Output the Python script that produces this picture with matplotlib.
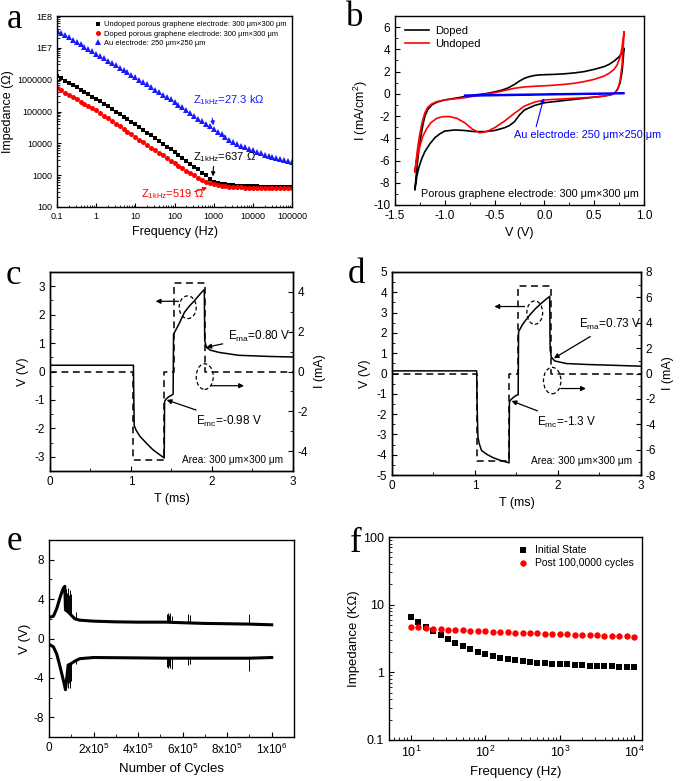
import numpy as np
import matplotlib
matplotlib.use("Agg")
import matplotlib.pyplot as plt
from matplotlib.patches import Ellipse
from matplotlib.ticker import MultipleLocator, LogLocator, NullFormatter

plt.rcParams['font.family'] = ['Liberation Sans', 'DejaVu Sans']
plt.rcParams['mathtext.fontset'] = 'custom'
plt.rcParams['mathtext.rm'] = 'Liberation Sans'
plt.rcParams['mathtext.it'] = 'Liberation Sans:italic'
plt.rcParams['xtick.direction'] = 'in'
plt.rcParams['ytick.direction'] = 'in'
plt.rcParams['axes.linewidth'] = 1.0
plt.rcParams['axes.unicode_minus'] = False

# ---------------- data ----------------
# (a) impedance spectra, log10 |Z| at 10 points per decade, 0.1 Hz .. 100 kHz
a_freq = np.logspace(-1, 5, 61)
a_undoped_log = [6.11, 6.04, 5.97, 5.90, 5.83, 5.76, 5.68, 5.61, 5.54, 5.47, 5.40,
                 5.32, 5.24, 5.16, 5.08, 5.00, 4.92, 4.84, 4.76, 4.68, 4.60,
                 4.51, 4.43, 4.34, 4.25, 4.17, 4.08, 3.99, 3.90, 3.82, 3.73,
                 3.64, 3.55, 3.46, 3.36, 3.27, 3.18, 3.08, 2.99, 2.89, 2.80,
                 2.76, 2.73, 2.71, 2.69, 2.68, 2.67, 2.66, 2.66, 2.65, 2.65,
                 2.65, 2.64, 2.64, 2.64, 2.63, 2.63, 2.63, 2.63, 2.62, 2.62]
a_doped_log = [5.73, 5.66, 5.59, 5.52, 5.45, 5.38, 5.31, 5.25, 5.18, 5.11, 5.04,
               4.96, 4.87, 4.79, 4.70, 4.62, 4.54, 4.45, 4.37, 4.28, 4.20,
               4.12, 4.03, 3.95, 3.86, 3.78, 3.70, 3.62, 3.54, 3.46, 3.38,
               3.30, 3.22, 3.14, 3.06, 2.99, 2.92, 2.86, 2.80, 2.75, 2.72,
               2.69, 2.67, 2.65, 2.64, 2.63, 2.62, 2.62, 2.61, 2.61, 2.61,
               2.60, 2.60, 2.60, 2.60, 2.59, 2.59, 2.59, 2.59, 2.59, 2.59]
a_au_log = [7.55, 7.48, 7.40, 7.33, 7.26, 7.18, 7.11, 7.04, 6.97, 6.89, 6.82,
            6.75, 6.67, 6.60, 6.52, 6.45, 6.38, 6.30, 6.23, 6.15, 6.08,
            6.00, 5.92, 5.85, 5.77, 5.69, 5.61, 5.53, 5.46, 5.38, 5.30,
            5.21, 5.13, 5.04, 4.96, 4.87, 4.78, 4.70, 4.61, 4.53, 4.44,
            4.36, 4.28, 4.20, 4.12, 4.05, 3.98, 3.92, 3.87, 3.82, 3.78,
            3.73, 3.69, 3.64, 3.60, 3.56, 3.53, 3.50, 3.47, 3.44, 3.42]

# (b) cyclic voltammetry
b_doped_v = [-1.30, -1.28, -1.26, -1.24, -1.22, -1.20, -1.17, -1.13, -1.08, -1.00, -0.90, -0.80,
             -0.70, -0.60, -0.50, -0.42, -0.36, -0.30, -0.25, -0.20, -0.15, -0.10, -0.05, 0.00,
             0.10, 0.20, 0.30, 0.40, 0.50, 0.60, 0.65, 0.70, 0.74, 0.77, 0.79, 0.80,
             0.79, 0.78, 0.76, 0.74, 0.71, 0.67, 0.60, 0.50, 0.40, 0.30, 0.20, 0.10, 0.00,
             -0.10, -0.20, -0.25, -0.30, -0.35, -0.40, -0.50, -0.60, -0.70, -0.80, -0.90,
             -1.00, -1.05, -1.10, -1.15, -1.20, -1.23, -1.26, -1.28, -1.30]
b_doped_i = [-8.6, -6.6, -5.0, -3.8, -2.8, -2.0, -1.4, -1.0, -0.75, -0.55, -0.4, -0.25,
             -0.1, 0.0, 0.17, 0.35, 0.55, 0.85, 1.15, 1.4, 1.55, 1.65, 1.7, 1.72,
             1.75, 1.8, 1.88, 2.0, 2.2, 2.45, 2.65, 2.95, 3.25, 3.55, 3.85, 4.1,
             3.0, 2.0, 1.0, 0.5, 0.1, -0.05, -0.2, -0.3, -0.4, -0.5, -0.6, -0.7, -0.8,
             -1.05, -1.45, -1.9, -2.5, -2.85, -3.05, -3.3, -3.4, -3.4, -3.3, -3.25,
             -3.35, -3.6, -3.95, -4.5, -5.2, -5.8, -6.6, -7.4, -8.6]
b_undoped_v = [-1.30, -1.28, -1.26, -1.24, -1.22, -1.20, -1.17, -1.13, -1.08, -1.00, -0.90, -0.80,
               -0.70, -0.60, -0.50, -0.40, -0.30, -0.20, -0.10, 0.00, 0.10, 0.20, 0.30, 0.40,
               0.50, 0.60, 0.65, 0.70, 0.73, 0.76, 0.78, 0.80,
               0.79, 0.78, 0.76, 0.74, 0.71, 0.67, 0.60, 0.50, 0.40, 0.30, 0.20, 0.10, 0.00,
               -0.10, -0.20, -0.30, -0.40, -0.50, -0.58, -0.65, -0.72, -0.80, -0.88, -0.95,
               -1.02, -1.08, -1.14, -1.18, -1.22, -1.25, -1.28, -1.30]
b_undoped_i = [-7.0, -5.4, -4.1, -3.1, -2.3, -1.7, -1.2, -0.9, -0.7, -0.55, -0.45, -0.35,
               -0.2, -0.05, 0.1, 0.3, 0.5, 0.62, 0.68, 0.72, 0.78, 0.85, 0.95, 1.1,
               1.3, 1.6, 1.85, 2.2, 2.6, 3.3, 4.2, 5.6,
               4.0, 2.6, 1.2, 0.5, 0.05, -0.1, -0.2, -0.3, -0.35, -0.4, -0.45, -0.5, -0.55,
               -0.75, -1.1, -1.75, -2.45, -3.05, -3.4, -3.5, -3.2, -2.6, -2.2, -2.05,
               -2.05, -2.2, -2.6, -3.1, -3.8, -4.7, -5.8, -7.0]
b_au_v = [-0.8, 0.8, 0.8, -0.8]
b_au_i = [-0.12, 0.08, 0.02, -0.2]

# (c) voltage transient and current pulse, 300 um x 300 um
c_t = [0, 1.03, 1.035, 1.04, 1.06, 1.11, 1.2, 1.27, 1.35, 1.41, 1.415, 1.43, 1.46, 1.49, 1.52,
       1.525, 1.59, 1.66, 1.72, 1.78, 1.87, 1.905, 1.91, 1.93, 1.98, 2.09, 2.33, 2.7, 3.0]
c_v = [0.22, 0.22, -1.0, -1.9, -2.05, -2.28, -2.55, -2.75, -2.92, -3.04, -1.05, -0.98, -0.9, -0.85, -0.8,
       1.31, 1.66, 2.08, 2.3, 2.48, 2.78, 2.88, 1.1, 0.85, 0.75, 0.67, 0.57, 0.53, 0.51]
c_ti = [0, 1.03, 1.03, 1.41, 1.41, 1.53, 1.53, 1.91, 1.91, 3.0]
c_i = [0, 0, -4.45, -4.45, 0, 0, 4.45, 4.45, 0, 0]

# (d)
d_t = [0, 1.02, 1.025, 1.035, 1.05, 1.08, 1.15, 1.22, 1.3, 1.41, 1.415, 1.43, 1.47, 1.5, 1.52,
       1.525, 1.57, 1.61, 1.67, 1.73, 1.81, 1.9, 1.905, 1.92, 1.96, 2.1, 2.38, 2.7, 3.0]
d_v = [0.13, 0.13, -1.5, -3.1, -3.45, -3.8, -4.0, -4.15, -4.27, -4.4, -1.4, -1.3, -1.15, -1.07, -1.05,
       2.05, 2.4, 2.62, 2.93, 3.2, 3.5, 3.8, 1.2, 0.8, 0.62, 0.49, 0.44, 0.4, 0.36]
d_ti = [0, 1.03, 1.03, 1.41, 1.41, 1.52, 1.52, 1.91, 1.91, 3.0]
d_i = [0, 0, -6.9, -6.9, 0, 0, 6.9, 6.9, 0, 0]

# (e) long-term pulsing
e_n = [0, 0.2e5, 0.35e5, 0.5e5, 0.64e5, 0.71e5, 0.74e5, 0.86e5, 1.0e5, 1.16e5, 1.38e5,
       2e5, 3e5, 4e5, 5.25e5, 6e5, 7e5, 8e5, 9e5, 1e6]
e_up = [2.14, 2.27, 3.05, 4.2, 5.1, 5.3, 2.9, 2.7, 2.37, 2.0, 1.86,
        1.76, 1.69, 1.66, 1.66, 1.6, 1.53, 1.5, 1.46, 1.39]
e_lo = [-0.58, -0.85, -1.6, -2.9, -4.2, -4.9, -5.2, -2.7, -2.54, -2.3, -2.05,
        -1.93, -1.95, -1.97, -2.0, -2.0, -2.0, -2.0, -2.0, -1.93]
e_spike_n = [0.78e5, 0.82e5, 0.86e5, 0.9e5, 0.95e5, 0.98e5, 1.2e5, 5.3e5, 5.35e5, 5.4e5,
             5.45e5, 5.5e5, 6.25e5, 6.35e5, 9e5]
e_spike_top = [5.0, 4.6, 5.1, 4.4, 4.9, 4.5, 2.7, 2.5, 2.6, 2.4, 2.6, 2.3, 2.5, 2.4, 2.5]
e_spike_bot = [-4.8, -4.4, -5.0, -4.5, -5.0, -4.3, -2.6, -2.9, -3.0, -2.8, -3.0, -3.1, -2.7, -2.6, -3.3]

# (f) impedance before/after pulsing
f_freq = np.logspace(1, 4, 31)
f_initial = [6.65, 5.6, 4.7, 4.1, 3.56, 3.08, 2.75, 2.45, 2.19, 1.98, 1.85, 1.73, 1.63, 1.56,
             1.51, 1.46, 1.42, 1.39, 1.36, 1.34, 1.33, 1.31, 1.29, 1.28, 1.26, 1.26, 1.24,
             1.23, 1.21, 1.20, 1.19]
f_post = [4.73, 4.68, 4.52, 4.42, 4.32, 4.27, 4.22, 4.18, 4.13, 4.08, 4.04, 3.99, 3.95, 3.91,
          3.86, 3.86, 3.82, 3.78, 3.74, 3.74, 3.70, 3.66, 3.62, 3.58, 3.58, 3.54, 3.50,
          3.47, 3.43, 3.39, 3.28]

# ---------------- figure ----------------
W, H = 685, 781
fig = plt.figure(figsize=(W / 100, H / 100), dpi=100)


def ax_at(x0, y0, x1, y1):
    return fig.add_axes([x0 / W, 1 - y1 / H, (x1 - x0) / W, (y1 - y0) / H])


def letter(x, y, s):
    fig.text(x / W, 1 - y / H, s, fontsize=25, family=['Liberation Serif', 'DejaVu Serif'],
             ha='center', va='center')


# ----- a -----
ax = ax_at(57, 16, 292, 207)
ax.plot(a_freq, 10 ** np.array(a_undoped_log), 's', color='black', ms=3.2, mew=0,
        label='Undoped porous graphene electrode: 300 μm×300 μm')
ax.plot(a_freq, 10 ** np.array(a_doped_log), 'o', color='#ff0000', ms=3.6, mew=0,
        label='Doped porous graphene electrode: 300 μm×300 μm')
ax.plot(a_freq, 10 ** np.array(a_au_log), '^', color='#1a1aff', ms=3.8, mew=0,
        label='Au electrode: 250 μm×250 μm')
ax.set_xscale('log')
ax.set_yscale('log')
ax.set_xlim(0.1, 1e5)
ax.set_ylim(100, 1e8)
ax.set_xticks([0.1, 1, 10, 100, 1000, 10000, 100000])
ax.set_xticklabels(['0.1', '1', '10', '100', '1000', '10000', '100000'])
ax.set_yticks([1e2, 1e3, 1e4, 1e5, 1e6, 1e7, 1e8])
ax.set_yticklabels(['100', '1000', '10000', '100000', '1000000', '1E7', '1E8'])
ax.xaxis.set_minor_locator(LogLocator(subs=np.arange(2, 10), numticks=20))
ax.yaxis.set_minor_locator(LogLocator(subs=np.arange(2, 10), numticks=20))
ax.xaxis.set_minor_formatter(NullFormatter())
ax.yaxis.set_minor_formatter(NullFormatter())
ax.tick_params(labelsize=6.5, length=3)
ax.tick_params(which='minor', length=1.8)
ax.set_xlabel('Frequency (Hz)', fontsize=9)
ax.set_ylabel('Impedance (Ω)', fontsize=9, labelpad=2)
ax.legend(loc='upper right', fontsize=5.4, frameon=False, handlelength=1.0,
          handletextpad=0.4, borderaxespad=0.3, labelspacing=0.25)
ax.text(300, 1.8e5, r'Z$_{\rm 1kHz}$=27.3 kΩ', color='#1a1aff', fontsize=8)
ax.annotate('', xy=(1000, 3.0e4), xytext=(900, 7.5e4),
            arrowprops=dict(arrowstyle='-|>', color='#1a1aff', lw=0.8, mutation_scale=6))
ax.text(300, 3.0e3, r'Z$_{\rm 1kHz}$=637 Ω', color='black', fontsize=8)
ax.annotate('', xy=(950, 750), xytext=(1000, 2300),
            arrowprops=dict(arrowstyle='-|>', color='black', lw=0.8, mutation_scale=6))
ax.text(14, 200, r'Z$_{\rm 1kHz}$=519 Ω', color='#ff0000', fontsize=8)
ax.annotate('', xy=(800, 430), xytext=(280, 290),
            arrowprops=dict(arrowstyle='-|>', color='#ff0000', lw=0.8, mutation_scale=6))
letter(14, 20, 'a')

# ----- b -----
ax = ax_at(395, 16, 644, 205)
ax.plot(b_doped_v, b_doped_i, color='black', lw=1.2, label='Doped')
ax.plot(b_undoped_v, b_undoped_i, color='#ff0000', lw=1.2, label='Undoped')
ax.plot(b_au_v, b_au_i, color='#0000ff', lw=1.2)
ax.set_xlim(-1.5, 1.0)
ax.set_ylim(-10, 7)
ax.set_yticks(np.arange(-10, 7, 2))
ax.xaxis.set_major_locator(MultipleLocator(0.5))
ax.xaxis.set_minor_locator(MultipleLocator(0.25))
ax.yaxis.set_minor_locator(MultipleLocator(1))
ax.tick_params(labelsize=8.5, length=3.5)
ax.tick_params(which='minor', length=2)
ax.set_xlabel('V (V)', fontsize=9)
ax.set_ylabel('I (mA/cm$^2$)', fontsize=9, labelpad=2)
ax.legend(loc='upper left', fontsize=8, frameon=False, handlelength=2.2,
          handletextpad=0.5, borderaxespad=0.5, labelspacing=0.3)
ax.text(-0.31, -3.95, 'Au electrode: 250 μm×250 μm', color='#0000ff', fontsize=7.8)
ax.annotate('', xy=(0.0, -0.15), xytext=(-0.09, -3.2),
            arrowprops=dict(arrowstyle='-|>', color='#0000ff', lw=0.8, mutation_scale=6))
ax.text(0.95, -9.0, 'Porous graphene electrode: 300 μm×300 μm', fontsize=7.8,
        ha='right', va='center')
letter(355, 17, 'b')


def pulse_panel(box, t, v, ti, i, vlim, ilim, vticks, iticks, vminor, iminor,
                ell1, ell2, arr_l, arr_r, ema_txt, ema_xy, ema_tip,
                emc_txt, emc_xy, emc_tip, area_xy):
    ax = ax_at(*box)
    ax2 = ax.twinx()
    ax.plot(t, v, color='black', lw=1.1)
    ax2.plot(ti, i, color='black', lw=1.1, ls=(0, (4.5, 3)))
    ax.set_xlim(0, 3)
    ax.set_ylim(*vlim)
    ax2.set_ylim(*ilim)
    ax.set_yticks(vticks)
    ax2.set_yticks(iticks)
    ax.xaxis.set_major_locator(MultipleLocator(1))
    ax.xaxis.set_minor_locator(MultipleLocator(0.5))
    ax.yaxis.set_minor_locator(MultipleLocator(vminor))
    ax2.yaxis.set_minor_locator(MultipleLocator(iminor))
    for a_ in (ax, ax2):
        a_.tick_params(labelsize=8.5, length=3.5)
        a_.tick_params(which='minor', length=2)
    ax.set_xlabel('T (ms)', fontsize=9)
    ax.set_ylabel('V (V)', fontsize=9)
    ax2.set_ylabel('I (mA)', fontsize=9)
    for (cx, cy, w, h) in (ell1, ell2):
        ax.add_patch(Ellipse((cx, cy), w, h, fill=False, ls=(0, (3, 2)), lw=0.9, color='black'))
    ax.annotate('', xy=arr_l[1], xytext=arr_l[0],
                arrowprops=dict(arrowstyle='-|>', color='black', lw=0.9, mutation_scale=7))
    ax.annotate('', xy=arr_r[1], xytext=arr_r[0],
                arrowprops=dict(arrowstyle='-|>', color='black', lw=0.9, mutation_scale=7))
    ax.annotate(ema_txt, xy=ema_tip, xytext=ema_xy, fontsize=8.5, va='center',
                arrowprops=dict(arrowstyle='-|>', color='black', lw=0.9, mutation_scale=7,
                                shrinkA=2, shrinkB=0))
    ax.annotate(emc_txt, xy=emc_tip, xytext=emc_xy, fontsize=8.5, va='center',
                arrowprops=dict(arrowstyle='-|>', color='black', lw=0.9, mutation_scale=7,
                                shrinkA=2, shrinkB=0))
    ax.text(area_xy[0], area_xy[1], 'Area: 300 μm×300 μm', fontsize=7.3, ha='right', va='center')
    return ax


# ----- c -----
pulse_panel((50, 272, 293, 471), c_t, c_v, c_ti, c_i, (-3.5, 3.5), (-5, 5),
            [-3, -2, -1, 0, 1, 2, 3], [-4, -2, 0, 2, 4], 0.5, 1,
            (1.70, 2.26, 0.21, 0.8), (1.91, -0.18, 0.21, 0.9),
            ((1.62, 2.47), (1.27, 2.47)), ((1.96, -0.5), (2.43, -0.5)),
            r'E$_{\rm ma}$=0.80 V', (2.2, 1.25), (1.93, 0.85),
            r'E$_{\rm mc}$=-0.98 V', (1.8, -1.75), (1.44, -1.0), (2.88, -3.1))
letter(13, 276, 'c')

# ----- d -----
pulse_panel((392, 272, 641, 475), d_t, d_v, d_ti, d_i, (-5, 5), (-8, 8),
            list(range(-5, 6)), [-8, -6, -4, -2, 0, 2, 4, 6, 8], 0.5, 1,
            (1.72, 3.0, 0.19, 1.15), (1.93, -0.35, 0.21, 1.3),
            ((1.63, 3.3), (1.2, 3.3)), ((2.0, -0.74), (2.37, -0.74)),
            r'E$_{\rm ma}$=0.73 V', (2.25, 2.4), (1.95, 0.75),
            r'E$_{\rm mc}$=-1.3 V', (1.75, -2.4), (1.44, -1.35), (2.89, -4.3))
letter(356, 274, 'd')

# ----- e -----
ax = ax_at(49, 540, 294, 737)
ax.plot(e_n, e_up, color='black', lw=2.2)
ax.plot(e_n, e_lo, color='black', lw=2.2)
ax.vlines(e_spike_n, np.interp(e_spike_n, e_n, e_up), e_spike_top, color='black', lw=0.7)
ax.vlines(e_spike_n, e_spike_bot, np.interp(e_spike_n, e_n, e_lo), color='black', lw=0.7)
ax.set_xlim(0, 1.1e6)
ax.set_ylim(-10, 10)
ax.set_xticks([0, 2e5, 4e5, 6e5, 8e5, 1e6])
ax.set_xticklabels(['0', '2x10$^5$', '4x10$^5$', '6x10$^5$', '8x10$^5$', '1x10$^6$'])
ax.set_yticks([-8, -4, 0, 4, 8])
ax.xaxis.set_minor_locator(MultipleLocator(1e5))
ax.yaxis.set_minor_locator(MultipleLocator(2))
ax.tick_params(labelsize=8.5, length=3.5)
ax.tick_params(which='minor', length=2)
ax.set_xlabel('Number of Cycles', fontsize=9.5)
ax.set_ylabel('V (V)', fontsize=9.5, labelpad=2)
letter(14, 542, 'e')

# ----- f -----
ax = ax_at(389, 537, 642, 740)
ax.plot(f_freq, f_initial, 's', color='black', ms=4.2, mew=0, label='Initial State')
ax.plot(f_freq, f_post, 'o', color='#ff0000', ms=4.6, mew=0, label='Post 100,0000 cycles')
ax.set_xscale('log')
ax.set_yscale('log')
ax.set_xlim(5.1, 1.27e4)
ax.set_ylim(0.1, 100)
ax.set_yticks([0.1, 1, 10, 100])
ax.set_yticklabels(['0.1', '1', '10', '100'])
ax.xaxis.set_minor_locator(LogLocator(subs=np.arange(2, 10), numticks=20))
ax.yaxis.set_minor_locator(LogLocator(subs=np.arange(2, 10), numticks=20))
ax.xaxis.set_minor_formatter(NullFormatter())
ax.yaxis.set_minor_formatter(NullFormatter())
ax.tick_params(labelsize=9, length=3.5)
ax.tick_params(which='minor', length=2)
ax.set_xlabel('Frequency (Hz)', fontsize=9.5)
ax.set_ylabel('Impedance (KΩ)', fontsize=9.5, labelpad=2)
ax.legend(loc='upper right', fontsize=7.5, frameon=False, handlelength=1.0,
          handletextpad=0.6, borderaxespad=0.4, labelspacing=0.3)
letter(356, 543, 'f')

fig.savefig('out.png', dpi=100)
